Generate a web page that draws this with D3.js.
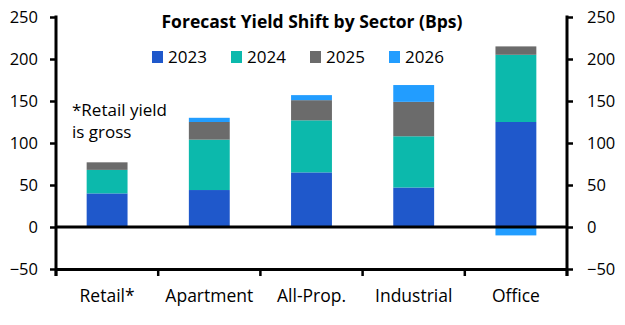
<!DOCTYPE html>
<html>
<head>
<meta charset="utf-8">
<script src="https://cdn.jsdelivr.net/npm/d3@7"></script>
<style>
  body { margin: 0; background: #fff; }
  text { font-family: "Open Sans", sans-serif; fill: #000; }
</style>
</head>
<body>
<div id="chart"></div>
<script>
// Forecast yield shift by sector, stacked by year (bps)
const sectors = ["Retail*", "Apartment", "All-Prop.", "Industrial", "Office"];
const years = ["2023", "2024", "2025", "2026"];
const v2023 = [40, 44, 65, 47, 125];
const v2024 = [28, 60, 62, 61, 80];
const v2025 = [9, 21, 24, 41, 10];
const v2026 = [0, 5, 6, 20, -10];
const yTicks = [-50, 0, 50, 100, 150, 200, 250];
const colors = ["#1f58cb", "#0cb9ac", "#6b6b6b", "#229dff"];

const rows = sectors.map((s, i) => ({
  sector: s, "2023": v2023[i], "2024": v2024[i], "2025": v2025[i], "2026": v2026[i]
}));

const W = 625, H = 325;
const margin = {top: 17, right: 58, bottom: 56, left: 56};
const svg = d3.select("#chart").append("svg").attr("width", W).attr("height", H);

const x = d3.scaleBand().domain(sectors).range([margin.left, W - margin.right]).padding(0);
const y = d3.scaleLinear().domain([-50, 250]).range([H - margin.bottom, margin.top]);
const color = d3.scaleOrdinal().domain(years).range(colors);

const series = d3.stack().keys(years).offset(d3.stackOffsetDiverging)(rows);
const barW = x.bandwidth() * 0.4;

svg.append("g").selectAll("g").data(series).join("g")
  .attr("fill", d => color(d.key))
  .selectAll("rect").data(d => d).join("rect")
  .attr("x", d => x(d.data.sector) + (x.bandwidth() - barW) / 2)
  .attr("width", barW)
  .attr("y", d => y(Math.max(d[0], d[1])))
  .attr("height", d => Math.abs(y(d[0]) - y(d[1])));

// zero line
svg.append("line")
  .attr("x1", margin.left).attr("x2", W - margin.right)
  .attr("y1", y(0)).attr("y2", y(0))
  .attr("stroke", "#000").attr("stroke-width", 3);

const fmt = d3.format("d");
const left = svg.append("g").attr("transform", `translate(${margin.left},0)`)
  .call(d3.axisLeft(y).tickValues(yTicks).tickFormat(fmt).tickSize(6).tickSizeOuter(0).tickPadding(12));
const right = svg.append("g").attr("transform", `translate(${W - margin.right},0)`)
  .call(d3.axisRight(y).tickValues(yTicks).tickFormat(fmt).tickSize(6).tickSizeOuter(0).tickPadding(14));
const bottom = svg.append("g").attr("transform", `translate(0,${y(-50)})`)
  .call(d3.axisBottom(x).tickSize(0).tickPadding(21));

[left, right].forEach(g => {
  g.select(".domain").attr("stroke-width", 3).attr("d", `M0,${margin.top - 1.5}V${y(-50) + 7}`);
  g.selectAll(".tick line").attr("stroke-width", 2.5);
  g.selectAll(".tick text").attr("font-size", 16.5).attr("font-family", "Open Sans");
});
bottom.select(".domain").attr("stroke-width", 3);
bottom.selectAll(".tick text").attr("font-size", 17.5).attr("font-family", "Open Sans");

// category boundary ticks on the bottom line
const bounds = sectors.map(s => x(s)).concat([x.range()[1]]);
svg.append("g").selectAll("line").data(bounds).join("line")
  .attr("x1", d => d).attr("x2", d => d)
  .attr("y1", y(-50)).attr("y2", y(-50) + 7)
  .attr("stroke", "#000").attr("stroke-width", 2.5);

svg.append("text").attr("x", 312).attr("y", 28).attr("text-anchor", "middle")
  .attr("font-size", 17.5).attr("font-weight", "bold")
  .text("Forecast Yield Shift by Sector (Bps)");

const legendX = [152, 231, 310, 389];
const leg = svg.append("g").selectAll("g").data(years).join("g")
  .attr("transform", (d, i) => `translate(${legendX[i]},51)`);
leg.append("rect").attr("width", 11).attr("height", 12).attr("fill", d => color(d));
leg.append("text").attr("x", 16).attr("y", 12).attr("font-size", 17).text(d => d);

svg.append("text").attr("x", 72).attr("y", 116).attr("font-size", 17).text("*Retail yield");
svg.append("text").attr("x", 72).attr("y", 138).attr("font-size", 17).text("is gross");
</script>
</body>
</html>
